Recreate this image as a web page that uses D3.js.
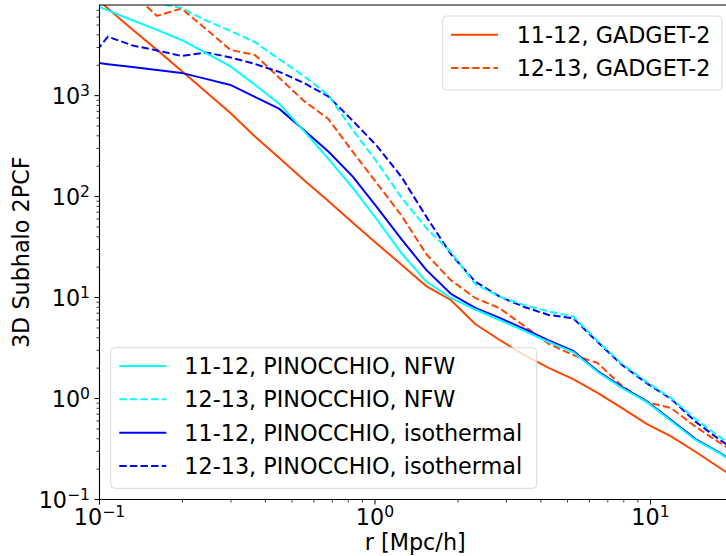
<!DOCTYPE html>
<html>
<head>
    <meta charset="UTF-8">
    <title>3D Subhalo 2PCF</title>
    <script src="https://cdn.jsdelivr.net/npm/d3@7"></script>
    <style>
        html, body {
            margin: 0;
            padding: 0;
            background: #fff;
        }

        svg text {
            font-family: "DejaVu Sans", sans-serif;
        }
    </style>
</head>
<body>
    <svg id="chart" width="726" height="556"></svg>
    <script>
        // separation bins r [Mpc/h]
        var rVals = [0.0875, 0.1073, 0.1317, 0.1617, 0.1983, 0.2433, 0.2987, 0.3665, 0.4497, 0.5518,
            0.6771, 0.8308, 1.019, 1.251, 1.535, 1.884, 2.311, 2.836, 3.480, 4.270,
            5.240, 6.430, 7.889, 9.680, 11.88, 14.57, 17.88, 21.9];

        var gadget1112 = [11700, 7310, 4530, 2840, 1760, 1090, 674, 394, 241, 146,
            90.6, 55.2, 34.0, 21.0, 13.0, 9.47, 5.47, 3.80, 2.70, 2.01,
            1.56, 1.14, 0.805, 0.560, 0.421, 0.297, 0.205, 0.143];
        var gadget1213 = [18000, 14000, 10300, 6170, 7310, 4580, 2840, 2530, 1497, 887,
            588, 277, 134, 64.3, 27.0, 14.9, 9.91, 7.83, 5.24, 3.48,
            2.70, 2.25, 1.33, 0.925, 0.805, 0.526, 0.363, 0.252];
        var nfw1112 = [8770, 6980, 5580, 4480, 3560, 2650, 1950, 1280, 828, 447,
            236, 122, 58.7, 27.3, 14.4, 9.91, 7.62, 6.00, 4.67, 3.63,
            2.89, 1.83, 1.27, 0.925, 0.600, 0.389, 0.286, 0.196];
        var nfw1213 = [14000, 12000, 10000, 8200, 7400, 5560, 4375, 3400, 2290, 1565,
            1010, 457, 218, 97, 48.9, 28.3, 13.6, 10.2, 8.45, 7.28,
            6.50, 3.72, 2.20, 1.46, 1.01, 0.627, 0.416, 0.282];
        var iso1112 = [2190, 2050, 1920, 1790, 1680, 1465, 1276, 971, 738, 457,
            280, 158, 77.8, 37.4, 18.8, 10.9, 7.89, 6.29, 4.89, 3.76,
            2.96, 1.87, 1.30, 0.946, 0.613, 0.397, 0.289, 0.200];
        var iso1213 = [1924, 3837, 3140, 2805, 2470, 2680, 2390, 2060, 1718, 1336,
            982, 563, 315, 155, 63.3, 27.0, 14.4, 10.2, 8.07, 6.73,
            6.24, 3.63, 2.15, 1.42, 0.991, 0.590, 0.388, 0.270];

        var xMajor = [0.1, 1, 10];
        var xExp = ["\u22121", "0", "1"];
        var yMajor = [0.1, 1, 10, 100, 1000];
        var yExp = ["\u22121", "0", "1", "2", "3"];

        var series = [
            {label: "11-12, GADGET-2", values: gadget1112, color: "#ff4500", dash: null, legend: 0},
            {label: "12-13, GADGET-2", values: gadget1213, color: "#ff4500", dash: "7.4,3.2", legend: 0},
            {label: "11-12, PINOCCHIO, isothermal", values: iso1112, color: "#0000ff", dash: null, legend: 1, order: 2},
            {label: "12-13, PINOCCHIO, isothermal", values: iso1213, color: "#0000ff", dash: "7.4,3.2", legend: 1, order: 3},
            {label: "11-12, PINOCCHIO, NFW", values: nfw1112, color: "#00ffff", dash: null, legend: 1, order: 0},
            {label: "12-13, PINOCCHIO, NFW", values: nfw1213, color: "#00ffff", dash: "7.4,3.2", legend: 1, order: 1}
        ];

        var mLeft = 99.5, mRight = 731, mTop = 5, mBottom = 499.5;

        var svg = d3.select("#chart");

        var x = d3.scaleLog().domain([0.1, 19.6]).range([mLeft, mRight]);
        var y = d3.scaleLog().domain([0.1, 7900]).range([mBottom, mTop]);

        svg.append("clipPath").attr("id", "clip")
            .append("rect")
            .attr("x", mLeft).attr("y", mTop)
            .attr("width", mRight - mLeft).attr("height", mBottom - mTop);

        var line = d3.line()
            .x(function (d, i) { return x(rVals[i]); })
            .y(function (d) { return y(d); });

        var plot = svg.append("g").attr("clip-path", "url(#clip)");
        series.forEach(function (s) {
            plot.append("path")
                .datum(s.values)
                .attr("d", line)
                .attr("fill", "none")
                .attr("stroke", s.color)
                .attr("stroke-width", 2)
                .attr("stroke-dasharray", s.dash);
        });

        // minor ticks
        var xMinor = [], yMinor = [];
        [0.1, 1, 10].forEach(function (b) {
            for (var m = 2; m <= 9; m++) {
                if (b * m <= 19.6) xMinor.push(b * m);
            }
        });
        [0.1, 1, 10, 100, 1000].forEach(function (b) {
            for (var m = 2; m <= 9; m++) {
                if (b * m <= 7900) yMinor.push(b * m);
            }
        });

        var axes = svg.append("g").attr("stroke", "#000");
        xMinor.forEach(function (v) {
            axes.append("line").attr("x1", x(v)).attr("x2", x(v))
                .attr("y1", mBottom).attr("y2", mBottom + 3).attr("stroke-width", 0.8);
        });
        xMajor.forEach(function (v) {
            axes.append("line").attr("x1", x(v)).attr("x2", x(v))
                .attr("y1", mBottom).attr("y2", mBottom + 5).attr("stroke-width", 1);
        });
        yMinor.forEach(function (v) {
            axes.append("line").attr("y1", y(v)).attr("y2", y(v))
                .attr("x1", mLeft).attr("x2", mLeft - 3).attr("stroke-width", 0.8);
        });
        yMajor.forEach(function (v) {
            axes.append("line").attr("y1", y(v)).attr("y2", y(v))
                .attr("x1", mLeft).attr("x2", mLeft - 5).attr("stroke-width", 1);
        });

        // spines (right one falls outside the picture)
        axes.append("path")
            .attr("d", "M" + mRight + "," + mTop + "H" + mLeft + "V" + mBottom + "H" + mRight)
            .attr("fill", "none").attr("stroke-width", 1.1);

        function powLabel(sel, exp) {
            sel.append("tspan").text("10");
            sel.append("tspan").attr("dy", -8).attr("font-size", 15.6).text(exp);
        }

        xMajor.forEach(function (v, i) {
            var t = svg.append("text")
                .attr("x", x(v)).attr("y", 525)
                .attr("text-anchor", "middle")
                .attr("font-size", 22.3);
            powLabel(t, xExp[i]);
        });
        yMajor.forEach(function (v, i) {
            var t = svg.append("text")
                .attr("x", 90).attr("y", y(v) + 8)
                .attr("text-anchor", "end")
                .attr("font-size", 22.3);
            powLabel(t, yExp[i]);
        });

        svg.append("text")
            .attr("x", (mLeft + mRight) / 2).attr("y", 550)
            .attr("text-anchor", "middle").attr("font-size", 22.3)
            .text("r [Mpc/h]");
        svg.append("text")
            .attr("transform", "translate(29," + ((mTop + mBottom) / 2) + ") rotate(-90)")
            .attr("text-anchor", "middle").attr("font-size", 22.3)
            .text("3D Subhalo 2PCF");

        // legends
        function legend(items, bx, by, bw, bh, lx0, tx, rowY) {
            var g = svg.append("g");
            g.append("rect")
                .attr("x", bx).attr("y", by).attr("width", bw).attr("height", bh)
                .attr("rx", 4)
                .attr("fill", "#fff").attr("fill-opacity", 0.8)
                .attr("stroke", "#d9d9d9").attr("stroke-width", 1);
            items.forEach(function (s, i) {
                var ly = rowY[i];
                g.append("line")
                    .attr("x1", lx0).attr("x2", lx0 + 47)
                    .attr("y1", ly).attr("y2", ly)
                    .attr("stroke", s.color).attr("stroke-width", 2)
                    .attr("stroke-dasharray", s.dash);
                g.append("text")
                    .attr("x", tx).attr("y", ly + 8)
                    .attr("font-size", 22.3)
                    .text(s.label);
            });
        }

        var leg1 = series.filter(function (s) { return s.legend === 0; });
        var leg2 = series.filter(function (s) { return s.legend === 1; })
            .sort(function (a, b) { return a.order - b.order; });

        legend(leg1, 442.7, 16, 279.3, 74, 451, 516.7, [34.7, 68]);
        legend(leg2, 110.7, 347.7, 426, 140.6, 119.3, 184.3, [366, 399.3, 432.7, 466]);
    </script>
</body>
</html>
